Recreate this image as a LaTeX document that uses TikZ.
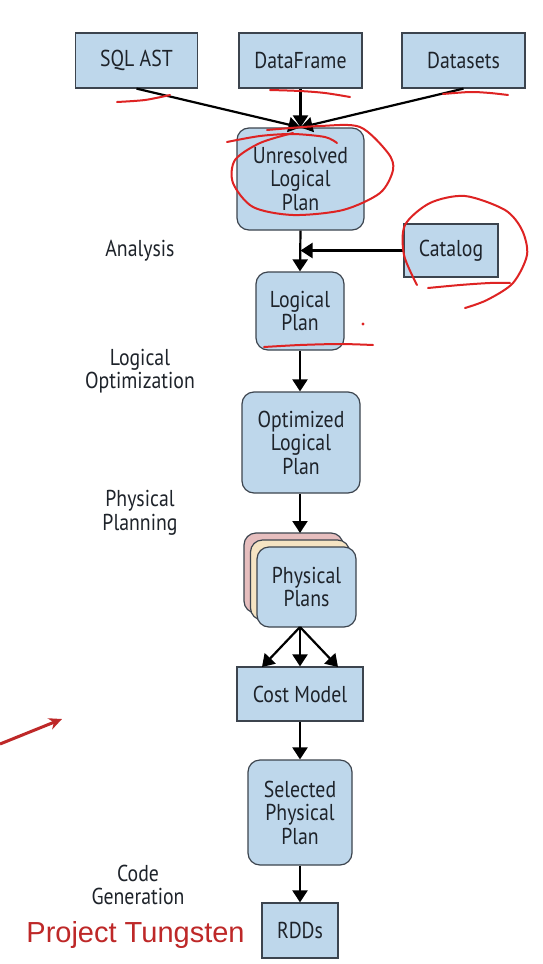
\documentclass[tikz,border=0pt]{standalone}
\usepackage{fontspec}
\setmainfont{PT Sans}[FakeStretch=0.86]
\newfontfamily\tungfont{Liberation Sans}
\usetikzlibrary{arrows.meta}
\definecolor{boxfill}{RGB}{190,215,235}
\definecolor{boxline}{RGB}{60,68,78}
\definecolor{txt}{RGB}{30,35,42}
\definecolor{pinkfill}{RGB}{230,190,190}
\definecolor{tanfill}{RGB}{245,228,195}
\definecolor{annot}{RGB}{222,35,35}
\definecolor{tung}{RGB}{190,40,40}
\begin{document}
\begin{tikzpicture}[x=1pt,y=-1pt,
  box/.style={draw=boxline, fill=boxfill, line width=1.2pt, text=txt,
    font=\fontsize{23}{23.5}\selectfont, align=center, inner sep=0pt},
  rbox/.style={box, rounded corners=12pt},
  lbl/.style={text=txt, font=\fontsize{23}{23.5}\selectfont, align=center, inner sep=0pt},
  arr/.style={-{Triangle[width=15pt,length=12pt]}, line width=2.2pt, black},
  redmark/.style={annot, line width=2pt, line cap=round, line join=round}
]
\useasboundingbox (0,0) rectangle (542,964);
\fill[white] (0,0) rectangle (542,964);

% boxes
\node[box, minimum width=122pt, minimum height=55pt] (sql) at (136.5,60.5) {SQL AST};
\node[box, minimum width=123pt, minimum height=55pt] (df) at (300.5,60.5) {DataFrame};
\node[box, minimum width=123pt, minimum height=55pt] (ds) at (463.5,60.5) {Datasets};
\node[rbox, minimum width=127pt, minimum height=102pt] (unres) at (300.5,179) {Unresolved\\Logical\\Plan};
\node[box, minimum width=94pt, minimum height=53pt] (cat) at (451,250.5) {Catalog};
\node[rbox, minimum width=88pt, minimum height=78pt] (lp) at (300,311) {Logical\\Plan};
\node[rbox, minimum width=118pt, minimum height=101pt] (opt) at (301,442.5) {Optimized\\Logical\\Plan};
\node[rbox, fill=pinkfill, minimum width=99pt, minimum height=80pt] (pp3) at (293.5,573) {};
\node[rbox, fill=tanfill, minimum width=99pt, minimum height=80pt] (pp2) at (300,580) {};
\node[rbox, minimum width=99pt, minimum height=80pt] (pp) at (306.5,587) {Physical\\Plans};
\node[box, minimum width=126pt, minimum height=54pt] (cost) at (300,694) {Cost Model};
\node[rbox, minimum width=104pt, minimum height=105pt] (sel) at (300,812.5) {Selected\\Physical\\Plan};
\node[box, minimum width=76pt, minimum height=55pt] (rdd) at (300,930.5) {RDDs};

% stage labels
\node[lbl] (la) at (140,251) {Analysis};
\node[lbl] (lo) at (140,371) {Logical\\Optimization};
\node[lbl] (lph) at (140,513) {Physical\\Planning};
\node[lbl] (lc) at (138,885) {Code\\Generation};
\node[text=tung, font=\tungfont\fontsize{29}{32}\selectfont, inner sep=0pt] (pt) at (135.5,935) {Project Tungsten};

% connectors
\draw[arr] (sql.south) -- (unres.north);
\draw[arr] (df.south) -- (unres.north);
\draw[arr] (ds.south) -- (unres.north);
\draw[arr] (unres.south) -- (lp.north);
\coordinate (join) at (unres.south |- cat.west);
\draw[arr] (cat.west) -- (join);
\draw[arr] (lp.south) -- (lp.south |- opt.north);
\coordinate (ppin) at (300,533);
\draw[arr] (lp.south |- opt.south) -- (ppin);
\coordinate (ppout) at (300,627);
\coordinate (c1) at (262,667);
\coordinate (c3) at (338,667);
\draw[arr] (ppout) -- (c1);
\draw[arr] (ppout) -- (cost.north);
\draw[arr] (ppout) -- (c3);
\draw[arr] (cost.south) -- (sel.north);
\draw[arr] (sel.south) -- (rdd.north);

% red hand annotations
\draw[redmark] plot[smooth] coordinates {(117,102) (145,100) (170,95)};
\draw[redmark] plot[smooth] coordinates {(270,90) (300,91) (325,93) (350,97)};
\draw[redmark] plot[smooth] coordinates {(443,94) (470,92) (490,93) (508,95)};
\draw[redmark] plot[smooth] coordinates {(227,142) (260,136) (293,134) (325,137) (337,143)};
\draw[redmark] plot[smooth] coordinates {(267,130) (320,126) (360,127) (388,153) (393,170) (380,193) (343,210) (293,215) (253,207) (233,183) (235,160) (260,143) (293,133)};
\draw[redmark] plot[smooth] coordinates {(417,285) (404,255) (405,225) (430,203) (465,196) (505,210) (522,230) (527,255) (513,283) (487,300) (465,308)};
\draw[redmark] plot[smooth] coordinates {(428,288) (460,285) (490,283) (510,283)};
\draw[redmark] plot[smooth] coordinates {(264,347) (300,345) (340,344) (373,345)};
\fill[annot] (363,324) circle (1.6pt);
\draw[tung, line width=3pt, -{Stealth[length=13pt,width=12pt]}] (0,744) -- (62,719);
\end{tikzpicture}
\end{document}
